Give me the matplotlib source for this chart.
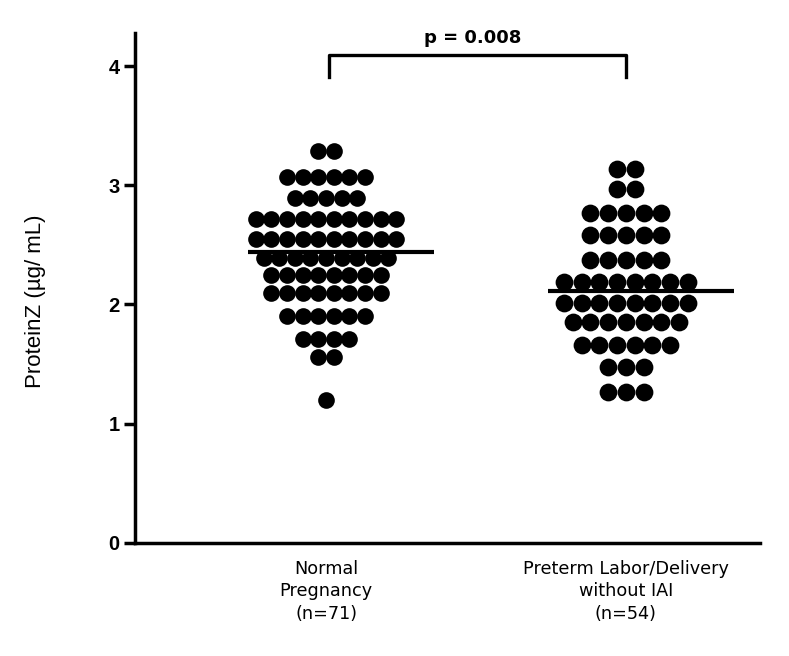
import numpy as np
import matplotlib.pyplot as plt

# dot rows: (value, number of dots in that row)
normal_vals = [3.29, 3.07, 2.89, 2.72, 2.55, 2.39, 2.25, 2.10, 1.90, 1.71, 1.56, 1.20]
normal_counts = [2, 6, 5, 10, 10, 9, 8, 8, 6, 4, 2, 1]
preterm_vals = [3.14, 2.97, 2.77, 2.58, 2.37, 2.19, 2.01, 1.85, 1.66, 1.48, 1.27]
preterm_counts = [2, 2, 5, 5, 5, 8, 8, 7, 6, 3, 3]

medians = [2.44, 2.11]
categories = ["Normal\nPregnancy\n(n=71)", "Preterm Labor/Delivery\nwithout IAI\n(n=54)"]
p_text = "p = 0.008"


def row_points(center, vals, counts, step):
    xs, ys = [], []
    for v, n in zip(vals, counts):
        offs = (np.arange(n) - (n - 1) / 2.0) * step
        xs.extend(center + offs)
        ys.extend([v] * n)
    return np.array(xs), np.array(ys)


fig = plt.figure(figsize=(7.89, 6.56), dpi=100)
ax = fig.add_axes([0.1711, 0.1723, 0.792, 0.7774])

x1, y1 = row_points(1.0, normal_vals, normal_counts, 0.052)
x2, y2 = row_points(2.0, preterm_vals, preterm_counts, 0.059)
ax.plot(x1, y1, "o", color="black", ms=12.0, mec="none", clip_on=False)
ax.plot(x2, y2, "o", color="black", ms=12.8, mec="none", clip_on=False)

# median lines
for i, m in enumerate(medians):
    ax.plot([i + 1 - 0.26, i + 1 + 0.36], [m, m], color="black", lw=3,
            solid_capstyle="butt")

# significance bracket
ax.plot([1.01, 1.01, 2.0, 2.0], [3.91, 4.09, 4.09, 3.91], color="black",
        lw=2.4, clip_on=False)
ax.text(1.49, 4.235, p_text, ha="center", va="center", fontsize=13,
        fontweight="bold", family="DejaVu Sans")

ax.set_xlim(0.363, 2.447)
ax.set_ylim(0, 4.277)
ax.set_yticks([0, 1, 2, 3, 4])
ax.set_yticklabels(["0", "1", "2", "3", "4"], fontsize=14.5, fontweight="bold",
                   family="Liberation Sans")
ax.set_xticks([1, 2])
ax.set_xticklabels(categories, fontsize=12.7, family="DejaVu Sans",
                   linespacing=1.32)
ax.tick_params(axis="x", length=0, pad=12)
ax.tick_params(axis="y", length=8, width=2.5, pad=3)

for s in ["top", "right"]:
    ax.spines[s].set_visible(False)
for s in ["left", "bottom"]:
    ax.spines[s].set_linewidth(2.5)

ax.set_ylabel("ProteinZ (µg/ mL)", fontsize=16, family="Liberation Sans")
ax.yaxis.set_label_coords(-0.142, 0.4745)

fig.savefig("out.png", dpi=100)
